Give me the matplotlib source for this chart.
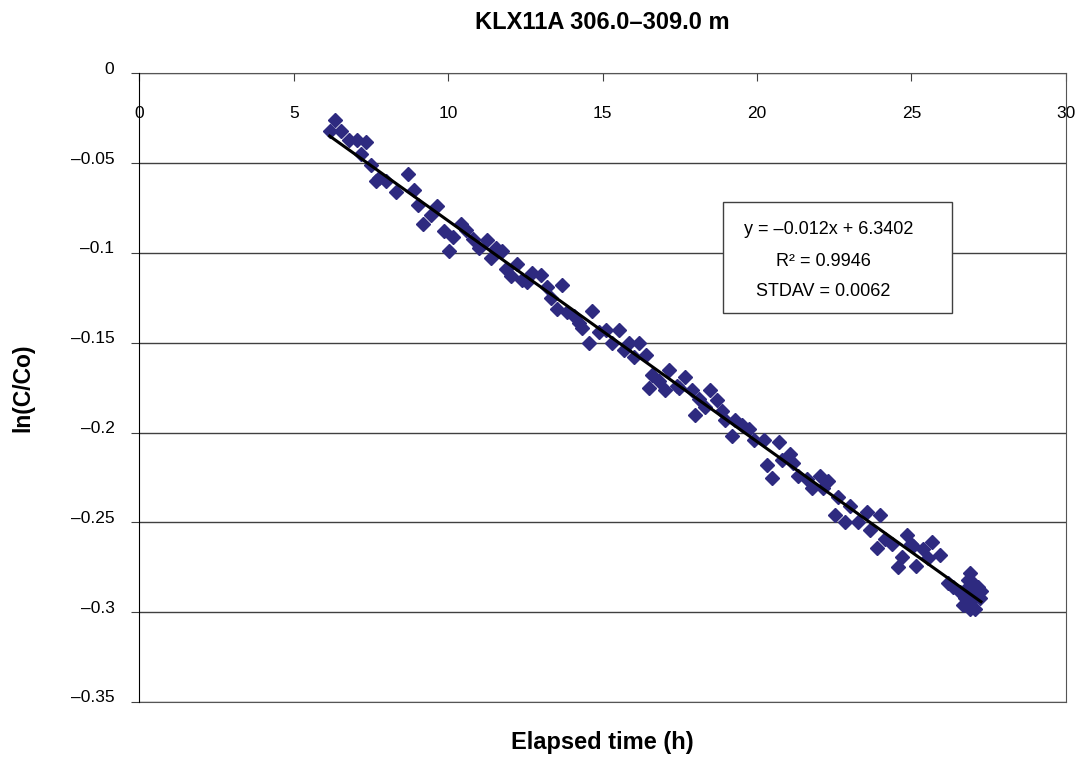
import numpy as np
import matplotlib
matplotlib.use('Agg')
import matplotlib.pyplot as plt
import matplotlib.transforms as mtransforms
from matplotlib.patches import Rectangle

plt.rcParams['font.family'] = ['Liberation Sans', 'DejaVu Sans']

# elapsed time (h) and ln(C/Co)
elapsed_h = [
    6.32, 6.16, 6.53, 6.80, 7.06, 7.35, 7.18, 7.50, 7.77, 7.99, 7.66, 8.69,
    8.31, 8.90, 9.01, 9.65, 9.44, 9.17, 9.87, 10.14, 10.03, 10.41, 10.57,
    10.79, 11.00, 11.27, 11.38, 11.54, 11.75, 11.86, 12.03, 12.24, 12.40,
    12.56, 12.72, 13.00, 13.21, 13.32, 13.69, 13.53, 13.85, 14.07, 14.23,
    14.34, 14.66, 14.56, 14.88, 15.10, 15.31, 15.53, 15.69, 15.85, 16.01,
    16.17, 16.39, 16.60, 16.49, 16.82, 17.03, 17.14, 17.41, 17.66, 17.46,
    17.89, 18.11, 18.00, 18.49, 18.33, 18.70, 18.86, 18.97, 19.30, 19.19,
    19.51, 19.73, 19.89, 20.21, 20.70, 20.32, 20.48, 20.80, 21.07, 21.18,
    21.34, 21.61, 21.77, 22.04, 22.15, 22.31, 22.63, 22.53, 22.85, 23.01,
    23.28, 23.55, 23.66, 23.98, 24.14, 23.87, 24.36, 24.84, 25.00, 25.38,
    24.68, 24.57, 25.06, 25.16, 25.54, 25.65, 25.92, 26.19, 26.35, 26.57,
    26.89, 26.83, 27.00, 27.16, 26.73, 26.89, 27.05, 26.67, 26.89, 26.93,
    27.09, 26.77, 27.25, 27.21,
]
ln_c_co = [
    -0.026, -0.032, -0.032, -0.037, -0.037, -0.038, -0.045, -0.051, -0.058,
    -0.060, -0.060, -0.056, -0.066, -0.065, -0.073, -0.074, -0.079, -0.084,
    -0.088, -0.091, -0.099, -0.084, -0.087, -0.092, -0.097, -0.093, -0.103,
    -0.097, -0.099, -0.109, -0.113, -0.106, -0.115, -0.116, -0.111, -0.112,
    -0.119, -0.125, -0.118, -0.131, -0.133, -0.135, -0.139, -0.142, -0.132,
    -0.150, -0.144, -0.143, -0.150, -0.143, -0.154, -0.150, -0.158, -0.150,
    -0.157, -0.168, -0.175, -0.171, -0.176, -0.165, -0.174, -0.169, -0.175,
    -0.176, -0.181, -0.190, -0.176, -0.186, -0.182, -0.188, -0.193, -0.193,
    -0.202, -0.196, -0.198, -0.204, -0.204, -0.205, -0.218, -0.225, -0.215,
    -0.212, -0.217, -0.224, -0.226, -0.231, -0.224, -0.231, -0.227, -0.236,
    -0.246, -0.250, -0.241, -0.250, -0.244, -0.254, -0.246, -0.259, -0.264,
    -0.262, -0.257, -0.262, -0.265, -0.269, -0.275, -0.263, -0.274, -0.270,
    -0.261, -0.268, -0.284, -0.286, -0.289, -0.278, -0.282, -0.284, -0.286,
    -0.292, -0.294, -0.298, -0.296, -0.298, -0.288, -0.291, -0.287, -0.288,
    -0.292,
]

x_ticks = [0, 5, 10, 15, 20, 25, 30]
y_ticks = [0, -0.05, -0.1, -0.15, -0.2, -0.25, -0.3, -0.35]
y_tick_labels = ['0', '\u20130.05', '\u20130.1', '\u20130.15', '\u20130.2',
                 '\u20130.25', '\u20130.3', '\u20130.35']
fit_lines = ['y = \u20130.012x + 6.3402', 'R\u00b2 = 0.9946', 'STDAV = 0.0062']

fig = plt.figure(figsize=(10.81, 7.61), dpi=100)
ax = fig.add_axes([0.129, 0.0775, 0.857, 0.826])

ax.plot(elapsed_h, ln_c_co, linestyle='none', marker='D', markersize=7,
        color='#2E2A80', zorder=3)

# linear trend over the data range
coef = np.polyfit(elapsed_h, ln_c_co, 1)
xs = np.array([min(elapsed_h), max(elapsed_h)])
ax.plot(xs, np.polyval(coef, xs), color='black', lw=2.2, zorder=4)

ax.set_xlim(0, 30)
ax.set_ylim(-0.35, 0)
ax.set_yticks(y_ticks)
ax.set_yticklabels(y_tick_labels)
ax.set_xticks(x_ticks)
ax.xaxis.tick_top()
ax.tick_params(axis='x', direction='in', length=6, pad=-34, labelsize=12.5,
               color='#404040')
ax.tick_params(axis='y', direction='out', length=6, pad=12, labelsize=12.5,
               color='#404040')

# y labels sit a little above their gridlines in the original
shift = mtransforms.ScaledTranslation(0, 4 / 72, fig.dpi_scale_trans)
for lbl in ax.get_yticklabels():
    lbl.set_transform(lbl.get_transform() + shift)

ax.grid(axis='y', color='#404040', lw=1)
ax.set_axisbelow(True)
for side in ['top', 'bottom', 'right']:
    ax.spines[side].set_color('#555555')
ax.spines['left'].set_color('black')
ax.spines['left'].set_zorder(5)

ax.set_title('KLX11A 306.0\u2013309.0 m', fontsize=17, fontweight='bold', pad=32)
ax.set_xlabel('Elapsed time (h)', fontsize=17, fontweight='bold', labelpad=21)
ax.set_ylabel('ln(C/Co)', fontsize=16.5, fontweight='bold', labelpad=26)

# fit statistics box
ax.add_patch(Rectangle((0.6295, 0.6185), 0.2472, 0.1776, transform=ax.transAxes,
                       facecolor='white', edgecolor='#404040', lw=1, zorder=6))
for txt, xf, yf in zip(fit_lines, [0.744, 0.738, 0.738], [0.751, 0.7005, 0.6528]):
    ax.text(xf, yf, txt, transform=ax.transAxes, ha='center', va='center',
            fontsize=13, zorder=7)

fig.savefig('out.png', dpi=100)
